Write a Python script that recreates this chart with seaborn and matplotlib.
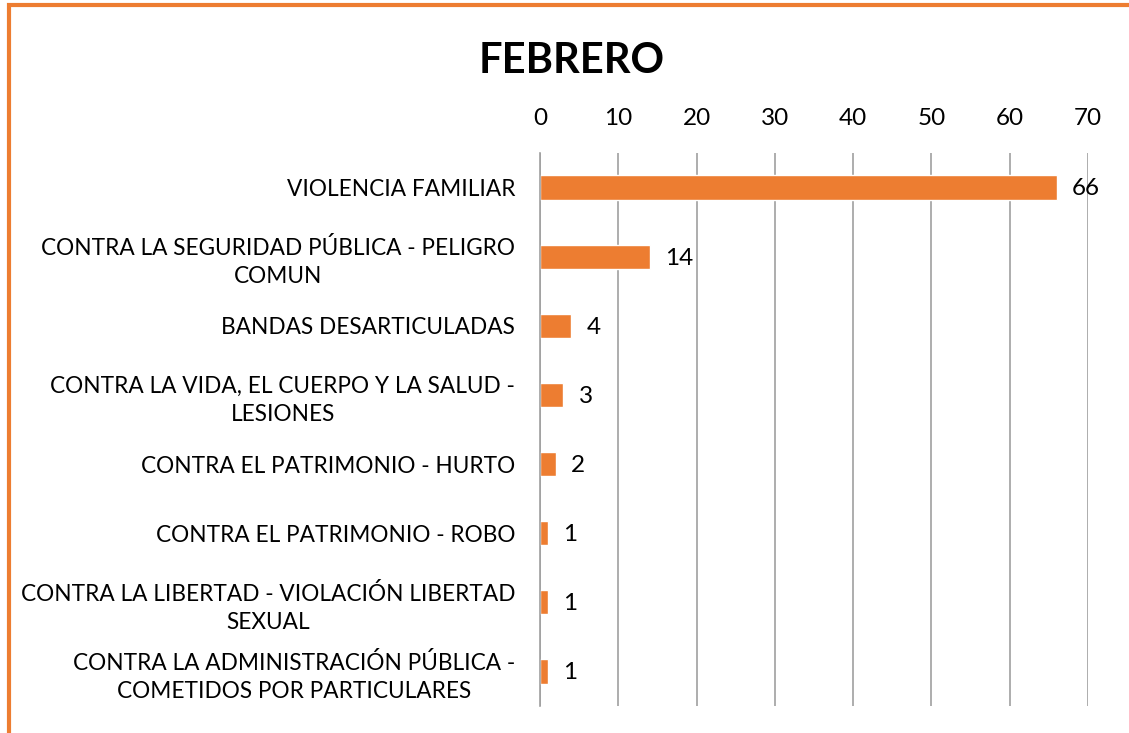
import matplotlib
matplotlib.use("Agg")
import matplotlib.pyplot as plt
import seaborn as sns
import pandas as pd
from matplotlib.patches import Rectangle

categories = [
    "VIOLENCIA FAMILIAR",
    "CONTRA LA SEGURIDAD PÚBLICA - PELIGRO\nCOMUN",
    "BANDAS DESARTICULADAS",
    "CONTRA LA VIDA, EL CUERPO Y LA SALUD -\nLESIONES",
    "CONTRA EL PATRIMONIO - HURTO",
    "CONTRA EL PATRIMONIO - ROBO",
    "CONTRA LA LIBERTAD - VIOLACIÓN LIBERTAD\nSEXUAL",
    "CONTRA LA ADMINISTRACIÓN PÚBLICA -\nCOMETIDOS POR PARTICULARES",
]
values = [66, 14, 4, 3, 2, 1, 1, 1]
xticks = [0, 10, 20, 30, 40, 50, 60, 70]

sns.set_theme(style="white")
plt.rcParams['font.family'] = ['Lato', 'DejaVu Sans']

df = pd.DataFrame({"cat": categories, "val": values})

fig = plt.figure(figsize=(11.29, 7.33), dpi=100)
ax = fig.add_axes([0.4783, 0.0368, 0.9637 - 0.4783, 0.7913 - 0.0368])

orange = "#ED7D31"
sns.barplot(data=df, x="val", y="cat", color=orange, width=0.35, ax=ax, saturation=1)

ax.set_xlim(0, 70)
ax.set_ylim(7.5, -0.5)
ax.set_xticks(xticks)
ax.xaxis.tick_top()
ax.tick_params(axis='x', length=0, pad=17, labelsize=17.5, colors='black')
ax.tick_params(axis='y', length=0, pad=18, labelsize=16.3, colors='black')
for lbl in ax.get_yticklabels():
    lbl.set_multialignment('center')
    lbl.set_linespacing(1.4)
ax.set_xlabel("")
ax.set_ylabel("")
ax.grid(axis='x', color='#A0A0A0', linewidth=1.2)
ax.set_axisbelow(True)
for s in ['top', 'right', 'bottom']:
    ax.spines[s].set_visible(False)
ax.spines['left'].set_color('#A0A0A0')
ax.spines['left'].set_linewidth(1.2)

for i, v in enumerate(values):
    ax.annotate(str(v), xy=(v, i), xytext=(11, -1), textcoords='offset points',
                va='center', ha='left', fontsize=17.5, color='black')

fig.text(0.506, 0.917, "FEBRERO", ha='center', va='center', fontsize=30,
         fontweight='bold', color='black')

fig.patches.append(Rectangle((9 / 1129, -0.05), 1.2, 1 - 5 / 733 + 0.05, transform=fig.transFigure,
                             fill=False, edgecolor=orange, linewidth=3, clip_on=False))

fig.savefig("out.png", dpi=100)
